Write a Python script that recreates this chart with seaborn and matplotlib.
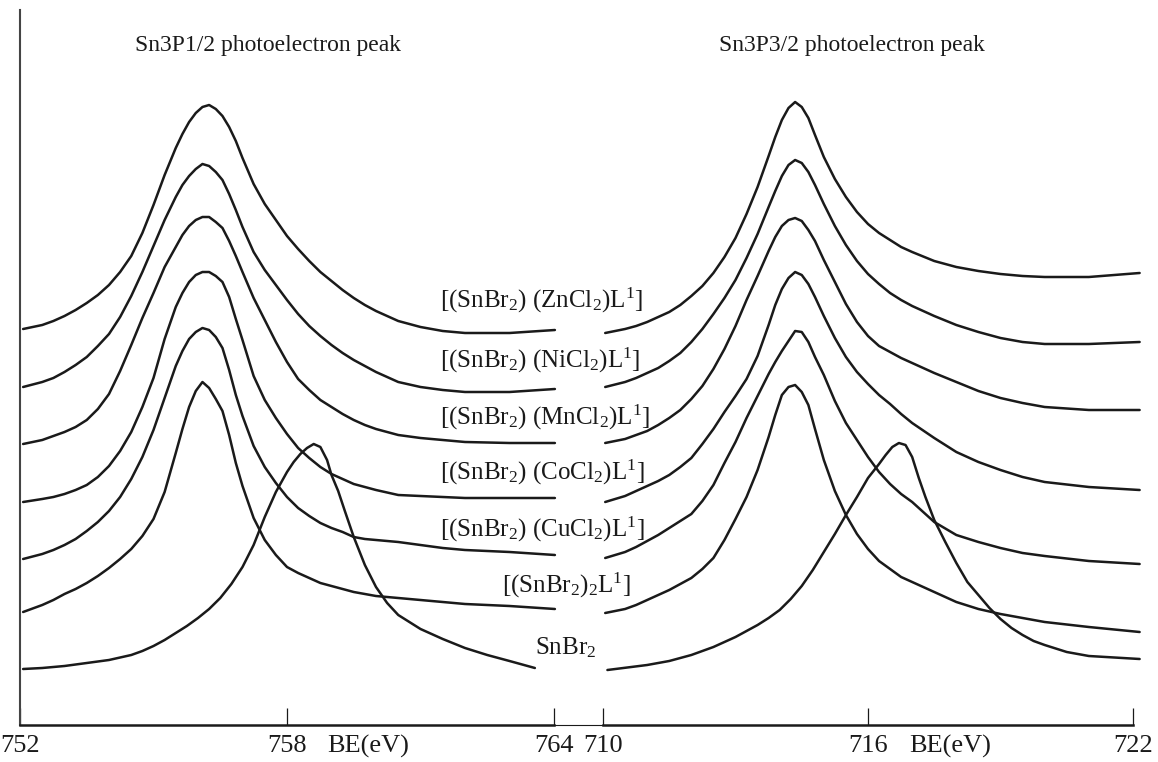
import pandas as pd
import seaborn as sns
import matplotlib.pyplot as plt
from matplotlib import transforms

# Sn 3p XPS spectra (intensity in a.u.), left panel = Sn3P1/2, right panel = Sn3P3/2
names = ["ZnCl2", "NiCl2", "MnCl2", "CoCl2", "CuCl2", "(SnBr2)2L", "SnBr2"]
labels = [r"[(SnBr$_2$) (ZnCl$_2$)L$^1$]",
          r"[(SnBr$_2$) (NiCl$_2$)L$^1$]",
          r"[(SnBr$_2$) (MnCl$_2$)L$^1$]",
          r"[(SnBr$_2$) (CoCl$_2$)L$^1$]",
          r"[(SnBr$_2$) (CuCl$_2$)L$^1$]",
          r"[(SnBr$_2$)$_2$L$^1$]",
          r"SnBr$_2$"]

# ---- Sn3P1/2 ----
be_p12 = [752.07, 752.5, 752.75, 753, 753.25, 753.5, 753.75, 754, 754.25, 754.5, 754.75, 755,
          755.25, 755.5, 755.65, 755.8, 755.95, 756.1, 756.25, 756.4, 756.55, 756.7, 756.85,
          757, 757.25, 757.5, 757.75, 758, 758.25, 758.5, 758.75, 759, 759.25, 759.5, 759.75,
          760, 760.5, 761, 761.5, 762, 763, 764.02]
zncl2_p12 = [396, 400, 404, 409, 415, 422, 430, 440, 453, 469, 492, 520, 550, 577, 591, 603, 612,
             618, 620, 616, 609, 598, 584, 567, 541, 521, 505, 489, 476, 464, 453, 444, 435,
             427, 420, 414, 404, 398, 394, 392, 392, 395]
nicl2_p12 = [338, 343, 347, 353, 360, 368, 379, 391, 408, 429, 453, 479, 505, 528, 540, 549, 556,
             561, 559, 553, 545, 531, 515, 498, 473, 455, 440, 425, 411, 399, 389, 380, 372,
             365, 359, 353, 343, 338, 335, 333, 333, 336]
mncl2_p12 = [281, 285, 289, 293, 298, 305, 316, 331, 354, 380, 407, 432, 458, 478, 490, 499, 505,
             508, 508, 503, 497, 484, 469, 453, 427, 405, 383, 363, 346, 335, 325, 318, 311,
             305, 300, 296, 290, 287, 285, 283, 282, 282]
cocl2_p12 = [223, 226, 228, 231, 235, 240, 248, 259, 274, 293, 318, 347, 386, 418, 432, 443, 450,
             453, 453, 449, 443, 428, 406, 385, 349, 325, 307, 291, 277, 267, 258, 251, 246,
             241, 238, 235, 230, 229, 228, 227, 227, 227]
cucl2_p12 = [166, 171, 175, 180, 186, 194, 203, 214, 228, 246, 268, 295, 327, 359, 374, 386, 393,
             397, 395, 388, 377, 355, 330, 309, 279, 258, 242, 228, 217, 209, 202, 197, 193,
             188, 186, 185, 183, 180, 177, 175, 173, 170]
sn2l_p12 = [113, 120, 125, 131, 136, 142, 149, 157, 166, 176, 189, 206, 233, 272, 296, 318, 334,
            343, 337, 326, 314, 290, 262, 239, 207, 185, 170, 158, 152, 147, 142, 139, 136,
            133, 131, 129, 127, 125, 123, 121, 119, 116]
be_snbr2_p12 = [752.07, 752.5, 753, 753.5, 754, 754.5, 754.75, 755, 755.25, 755.5, 755.75, 756,
                756.25, 756.5, 756.75, 757, 757.25, 757.5, 757.75, 758, 758.15, 758.3, 758.45,
                758.6, 758.75, 758.9, 759, 759.15, 759.3, 759.5, 759.75, 760, 760.25, 760.5,
                761, 761.5, 762, 762.5, 763, 763.57]
snbr2_p12 = [56, 57, 59, 62, 65, 70, 74, 79, 85, 92, 99, 107, 116, 127, 141, 158, 180, 208, 233,
             253, 263, 271, 277, 281, 278, 265, 250, 234, 214, 188, 160, 138, 122, 110, 96, 86,
             77, 70, 64, 57]

# ---- Sn3P3/2 ----
be_p32 = [710.05, 710.5, 710.75, 711, 711.25, 711.5, 711.75, 712, 712.25, 712.5, 712.75, 713,
          713.25, 713.5, 713.75, 713.9, 714.05, 714.2, 714.35, 714.5, 714.65, 714.8, 715,
          715.25, 715.5, 715.75, 716, 716.25, 716.5, 716.75, 717, 717.5, 718, 718.5, 719,
          719.5, 720, 721, 722.15]
zncl2_p32 = [392, 396, 399, 403, 408, 413, 420, 429, 439, 452, 468, 487, 511, 538, 569, 588, 605,
             617, 623, 618, 607, 590, 568, 546, 528, 513, 501, 492, 485, 478, 473, 464, 458,
             454, 451, 449, 448, 448, 452]
nicl2_p32 = [338, 343, 347, 352, 357, 364, 372, 383, 396, 411, 427, 445, 467, 491, 518, 534, 549,
             560, 565, 562, 553, 540, 521, 499, 480, 464, 451, 441, 432, 425, 419, 409, 400,
             393, 387, 383, 381, 381, 383]
mncl2_p32 = [282, 286, 290, 294, 300, 307, 315, 326, 339, 356, 376, 399, 425, 449, 474, 488, 499,
             505, 507, 504, 495, 484, 465, 443, 421, 403, 389, 379, 373, 367, 362, 352, 343,
             334, 327, 322, 318, 315, 315]
cocl2_p32 = [223, 229, 234, 239, 244, 250, 258, 267, 281, 296, 313, 329, 346, 369, 400, 420, 436,
             447, 453, 450, 441, 428, 409, 387, 368, 353, 341, 330, 321, 311, 302, 287, 273,
             263, 255, 248, 243, 238, 235]
cucl2_p32 = [167, 173, 178, 184, 190, 197, 204, 211, 224, 240, 262, 283, 307, 329, 351, 363, 374,
             384, 394, 393, 383, 368, 350, 324, 302, 285, 268, 253, 241, 231, 223, 203, 190,
             183, 177, 172, 169, 164, 161]
sn2l_p32 = [112, 116, 120, 125, 130, 135, 141, 147, 156, 167, 185, 206, 228, 255, 288, 310, 330,
            338, 340, 333, 320, 296, 265, 234, 210, 191, 176, 164, 156, 148, 143, 133, 123,
            116, 111, 107, 103, 98, 93]
be_snbr2_p32 = [710.1, 711, 711.5, 712, 712.5, 713, 713.25, 713.5, 713.75, 714, 714.25, 714.5,
                714.75, 715, 715.25, 715.5, 715.75, 716, 716.25, 716.4, 716.55, 716.7, 716.85,
                717, 717.15, 717.3, 717.5, 717.75, 718, 718.25, 718.5, 718.75, 719, 719.25,
                719.5, 719.75, 720, 720.5, 721, 722.15]
snbr2_p32 = [55, 60, 64, 70, 78, 88, 94, 100, 107, 115, 126, 139, 155, 173, 191, 210, 228, 247,
             261, 270, 278, 282, 280, 268, 247, 228, 205, 183, 162, 143, 130, 117, 106, 97, 90,
             84, 80, 73, 69, 66]


def long_frame(be, series, be_last, last):
    parts = [pd.DataFrame({"be": be, "intensity": s, "sample": n})
             for n, s in zip(names[:-1], series)]
    parts.append(pd.DataFrame({"be": be_last, "intensity": last, "sample": names[-1]}))
    return pd.concat(parts, ignore_index=True)


df_l = long_frame(be_p12, [zncl2_p12, nicl2_p12, mncl2_p12, cocl2_p12, cucl2_p12, sn2l_p12],
                  be_snbr2_p12, snbr2_p12)
df_r = long_frame(be_p32, [zncl2_p32, nicl2_p32, mncl2_p32, cocl2_p32, cucl2_p32, sn2l_p32],
                  be_snbr2_p32, snbr2_p32)

sns.set_style("white")
plt.rcParams["font.family"] = ["Liberation Serif", "DejaVu Serif"]
plt.rcParams["mathtext.fontset"] = "custom"
plt.rcParams["mathtext.rm"] = "Liberation Serif"
plt.rcParams["mathtext.it"] = "Liberation Serif"

ink = "#1a1a1a"
fig = plt.figure(figsize=(11.58, 7.62), dpi=100)
ax_l = fig.add_axes([20 / 1158, 37 / 762, 534 / 1158, 715 / 762])
ax_r = fig.add_axes([603 / 1158, 37 / 762, 530 / 1158, 715 / 762])

for ax, df, lim, ticks in [(ax_l, df_l, (752, 764), [752, 758, 764]),
                           (ax_r, df_r, (710, 722), [710, 716, 722])]:
    sns.lineplot(data=df, x="be", y="intensity", units="sample", estimator=None, sort=False,
                 color=ink, lw=1.8, ax=ax, legend=False)
    for ln in ax.lines:
        ln.set_clip_on(False)
        ln.set_solid_joinstyle("round")
    ax.patch.set_visible(False)
    ax.set_xlim(*lim)
    ax.set_ylim(0, 715)
    ax.set_xticks(ticks)
    ax.set_yticks([])
    ax.set_xlabel("")
    ax.set_ylabel("")
    ax.tick_params(axis="x", direction="in", length=12, width=0.9, pad=7, labelsize=19,
                   colors=ink, bottom=True)
    for side in ["top", "right", "left"]:
        ax.spines[side].set_visible(False)
    ax.spines["bottom"].set_linewidth(1.8)
    ax.spines["bottom"].set_color(ink)

ax_l.spines["left"].set_visible(True)
ax_l.spines["left"].set_linewidth(1.5)
ax_l.spines["left"].set_color("#444444")

# thin bridge of the broken axis
ax_l.plot([1, 583 / 534], [0, 0], transform=ax_l.transAxes, clip_on=False, color=ink, lw=0.8)

# axis unit labels next to the middle ticks
for ax, x in [(ax_l, 758.9), (ax_r, 716.93)]:
    tr = transforms.blended_transform_factory(ax.transData, ax.transAxes)
    ax.text(x, -0.0135, "BE(eV)", transform=tr, ha="left", va="top", fontsize=19, color=ink)

ax_l.text(757.57, 680, "Sn3P1/2 photoelectron peak", ha="center", va="center", fontsize=17, color=ink)
ax_r.text(715.64, 680, "Sn3P3/2 photoelectron peak", ha="center", va="center", fontsize=17, color=ink)

# sample labels between the two panels
label_y = [425, 365, 308, 253, 196, 140, 77]
for i, (txt, y) in enumerate(zip(labels, label_y)):
    if i < 5:
        ax_l.text(761.44, y, txt, ha="left", va="center", fontsize=18, color=ink)
    else:
        ax_l.text(764.27, y, txt, ha="center", va="center", fontsize=18, color=ink)

fig.savefig("out.png", dpi=100)
